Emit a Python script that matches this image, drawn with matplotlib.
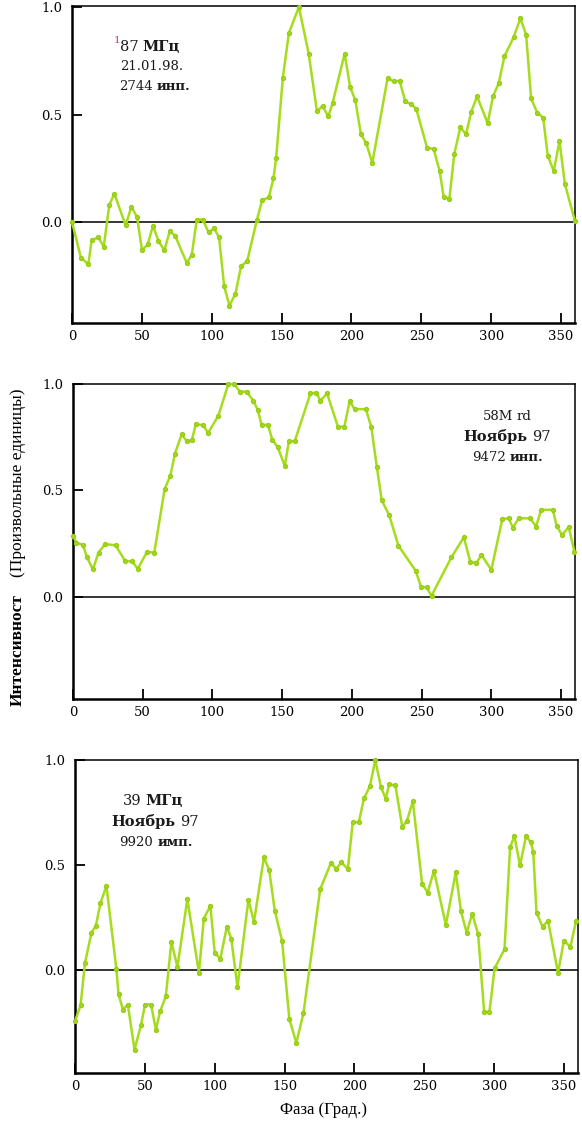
import matplotlib
matplotlib.use("Agg")
import matplotlib.pyplot as plt

# ---------------- data ----------------
phase_87 = [0, 6.4, 11.7, 14.1, 18.9, 22.7, 26.7, 30.3, 38.4, 42.5, 46.6, 50.1, 54.2, 58.0,
            61.8, 66.1, 70.0, 73.8, 82.1, 85.7, 89.3, 93.6, 97.7, 101.7, 105.3, 108.9,
            112.7, 117.0, 121.0, 125.4, 132.3, 136.1, 140.9, 144.2, 146.1, 150.9, 155.2,
            162.4, 169.4, 175.3, 179.3, 183.4, 186.5, 195.1, 199.1, 202.7, 206.8, 210.6,
            214.9, 225.9, 230.2, 234.5, 238.5, 242.8, 246.4, 254.1, 258.8, 263.1, 266.0,
            270.1, 273.6, 277.9, 282.0, 285.8, 289.9, 297.5, 301.3, 305.4, 309.5, 316.1,
            320.9, 325.0, 328.6, 332.9, 337.2, 340.5, 344.8, 348.9, 352.7, 360]
value_87 = [0.0, -0.167, -0.196, -0.084, -0.072, -0.115, 0.079, 0.132, -0.016, 0.072, 0.022,
            -0.132, -0.104, -0.017, -0.087, -0.132, -0.042, -0.064, -0.19, -0.154, 0.011,
            0.011, -0.048, -0.030, -0.072, -0.299, -0.389, -0.333, -0.206, -0.182, 0.009,
            0.101, 0.115, 0.204, 0.297, 0.671, 0.879, 1.0, 0.783, 0.515, 0.540, 0.491,
            0.553, 0.783, 0.626, 0.569, 0.408, 0.366, 0.274, 0.670, 0.654, 0.657, 0.561,
            0.548, 0.526, 0.346, 0.340, 0.238, 0.117, 0.109, 0.316, 0.441, 0.408, 0.514,
            0.584, 0.460, 0.584, 0.646, 0.771, 0.860, 0.947, 0.872, 0.576, 0.509, 0.486,
            0.308, 0.237, 0.377, 0.179, 0.003]

phase_58 = [0, 2.4, 7.1, 10, 14.3, 18.3, 23.1, 30.5, 37.6, 42.4, 46.4, 53.1, 58.3, 65.7,
            69.8, 73.1, 77.9, 81.7, 85.2, 88.1, 93.3, 96.9, 104.3, 111.4, 115.5, 119.8,
            124.5, 129.3, 132.6, 135.2, 139.8, 142.9, 146.7, 151.9, 154.8, 159.0, 170.3,
            174.5, 177.4, 182.2, 190.0, 194.6, 198.4, 201.9, 210.0, 213.9, 217.9, 221.4,
            226.7, 233.3, 245.7, 249.6, 253.6, 257.1, 271.4, 280.3, 285.0, 289.3, 292.9,
            300.0, 307.9, 312.4, 315.5, 319.6, 327.9, 332.1, 335.7, 344.1, 346.9, 350.7,
            355.5, 359.6]
value_58 = [0.286, 0.255, 0.244, 0.186, 0.129, 0.208, 0.248, 0.242, 0.167, 0.167, 0.132,
            0.211, 0.208, 0.506, 0.569, 0.673, 0.763, 0.731, 0.736, 0.810, 0.807, 0.770,
            0.852, 1.0, 1.0, 0.964, 0.964, 0.921, 0.877, 0.808, 0.808, 0.739, 0.704, 0.616,
            0.731, 0.731, 0.956, 0.959, 0.921, 0.956, 0.799, 0.799, 0.920, 0.882, 0.882,
            0.799, 0.610, 0.453, 0.385, 0.241, 0.123, 0.047, 0.044, 0.005, 0.186, 0.280,
            0.162, 0.159, 0.197, 0.127, 0.366, 0.369, 0.325, 0.369, 0.369, 0.330, 0.409,
            0.409, 0.332, 0.291, 0.327, 0.212]

phase_39 = [0, 4, 7.1, 11.8, 14.9, 18.2, 22.5, 29.6, 31.2, 34.3, 37.8, 42.6, 47.3, 50.1,
            54.4, 57.9, 61.0, 65.0, 69.0, 73.3, 80.4, 88.7, 92.2, 96.9, 100.0, 104.0, 108.7,
            111.8, 116.3, 124.1, 128.1, 135.2, 139.0, 143.0, 148.2, 153.4, 158.4, 163.5,
            175.5, 183.2, 187.0, 190.6, 195.3, 198.8, 203.1, 206.8, 211.1, 214.9, 218.9,
            222.4, 224.8, 229.3, 234.2, 237.5, 241.8, 248.4, 252.4, 256.9, 265.4, 272.5,
            276.3, 280.3, 284.3, 288.5, 292.8, 296.6, 300.3, 307.4, 311.4, 314.5, 318.5,
            322.8, 326.3, 328.0, 330.3, 334.6, 338.6, 345.7, 349.9, 354.6, 358.6]
value_39 = [-0.244, -0.167, 0.032, 0.178, 0.210, 0.318, 0.401, 0.006, -0.116, -0.188, -0.164,
            -0.379, -0.26, -0.164, -0.164, -0.283, -0.196, -0.124, 0.135, 0.014, 0.338,
            -0.013, 0.245, 0.306, 0.083, 0.054, 0.207, 0.150, -0.08, 0.334, 0.229, 0.537,
            0.476, 0.282, 0.139, -0.232, -0.347, -0.205, 0.385, 0.510, 0.481, 0.513, 0.481,
            0.705, 0.704, 0.817, 0.876, 1.0, 0.873, 0.815, 0.884, 0.879, 0.682, 0.709, 0.804,
            0.411, 0.369, 0.473, 0.215, 0.465, 0.279, 0.178, 0.268, 0.172, -0.199, -0.199,
            0.008, 0.099, 0.586, 0.637, 0.498, 0.637, 0.608, 0.561, 0.274, 0.207, 0.234,
            -0.013, 0.139, 0.111, 0.234]

x_ticks = [0, 50, 100, 150, 200, 250, 300, 350]
y_ticks = [0.0, 0.5, 1.0]
y_ticklabels = ["0.0", "0.5", "1.0"]

# ---------------- figure ----------------
W, H = 582, 1123
fig = plt.figure(figsize=(W / 100, H / 100), dpi=100)
fig.patch.set_facecolor("white")

SERIF = ["DejaVu Serif"]
LABSERIF = ["Liberation Serif", "DejaVu Serif"]
GREEN = "#a6dc1e"


def px_axes(left, right, top, bottom):
    return fig.add_axes([left / W, 1 - bottom / H, (right - left) / W, (bottom - top) / H])


panels = [
    (px_axes(72, 575, 6, 323), phase_87, value_87, (-0.47, 1.005)),
    (px_axes(73, 575, 384, 699), phase_58, value_58, (-0.48, 1.0)),
    (px_axes(75, 578, 760, 1073), phase_39, value_39, (-0.49, 1.0)),
]

for ax, ph, val, ylim in panels:
    ax.plot(ph, val, color=GREEN, lw=1.8, marker="o", ms=2.8,
            markerfacecolor=GREEN, markeredgecolor="#98cc14", zorder=3, clip_on=False)
    ax.axhline(0, color="black", lw=1.1, zorder=2)
    ax.set_xlim(0, 360)
    ax.set_ylim(*ylim)
    ax.set_xticks(x_ticks)
    ax.set_yticks(y_ticks)
    ax.set_yticklabels(y_ticklabels)
    ax.tick_params(direction="in", length=7, width=1.3, colors="black",
                   labelsize=9.5, pad=5)
    ax.tick_params(axis="y", pad=7)
    for lab in ax.get_xticklabels() + ax.get_yticklabels():
        lab.set_family(SERIF)
    ax.spines["left"].set_linewidth(1.8)
    ax.spines["bottom"].set_linewidth(1.8)
    ax.spines["top"].set_linewidth(1.1)
    ax.spines["right"].set_linewidth(1.1)

# ---------------- rich annotations ----------------
renderer = fig.canvas.get_renderer()


def rich(x_px, y_px, parts, ha="left", size=10):
    texts, widths = [], []
    for s, w in parts:
        t = fig.text(0, 0, s, fontweight=w, fontsize=size, family=SERIF,
                     va="baseline", ha="left", color="#1a1a1a")
        widths.append(t.get_window_extent(renderer).width)
        texts.append(t)
    gap = 4
    total = sum(widths) + gap * (len(parts) - 1)
    x0 = x_px if ha == "left" else x_px - total / 2
    for t, wd in zip(texts, widths):
        t.set_position((x0 / W, 1 - y_px / H))
        x0 += wd + gap


# panel 1
fig.text(114 / W, 1 - 43 / H, "1", fontsize=7.5, color="#c0404f", family=SERIF)
rich(120, 51, [("87", "normal"), ("МГц", "bold")], size=10.5)
rich(120, 70, [("21.01.98.", "normal")], size=9.5)
rich(119, 90, [("2744", "normal"), ("инп.", "bold")], size=9.5)

# panel 2
rich(507, 420, [("58M", "normal"), ("rd", "normal")], ha="center", size=9.5)
rich(507, 441, [("Ноябрь", "bold"), ("97", "normal")], ha="center", size=10.5)
rich(508, 461, [("9472", "normal"), ("инп.", "bold")], ha="center", size=9.5)

# panel 3
rich(153, 805, [("39", "normal"), ("МГц", "bold")], ha="center", size=10.5)
rich(155, 826, [("Ноябрь", "bold"), ("97", "normal")], ha="center", size=10.5)
rich(156, 846, [("9920", "normal"), ("имп.", "bold")], ha="center", size=9.5)

# axis labels
fig.text(18 / W, 1 - 650 / H, "Интенсивност", rotation=90, ha="center", va="center",
         fontsize=12.5, family=LABSERIF, fontweight="bold")
fig.text(18 / W, 1 - 483 / H, "(Произвольные единицы)", rotation=90, ha="center",
         va="center", fontsize=12.5, family=LABSERIF)
fig.text(323 / W, 1 - 1110 / H, "Фаза (Град.)", ha="center", va="center",
         fontsize=12, family=LABSERIF)

fig.savefig("out.png", dpi=100, facecolor="white")
